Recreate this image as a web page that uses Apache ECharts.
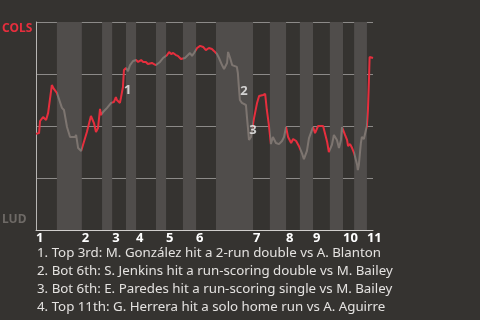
<!DOCTYPE html>
<html><head><meta charset="utf-8">
<script src="https://cdn.jsdelivr.net/npm/echarts@6/dist/echarts.min.js"></script>
<style>html,body{margin:0;padding:0;background:#353330;}#c{width:480px;height:320px;}</style>
</head><body><div id="c"></div>
<script>
// play progress (0-100) and COLS win probability (%)
const playX = [0,0.9,1.2,2.1,3.0,3.6,4.7,5.3,6.2,7.7,8.3,9.2,10.1,11.6,11.9,12.5,13.4,13.9,15.1,16.3,17.2,17.8,18.4,19.0,19.3,19.9,21.1,22.3,23.1,23.7,24.0,24.9,25.2,25.8,26.1,26.7,27.3,27.9,28.8,29.7,30.3,31.2,31.8,32.6,33.2,34.4,35.0,35.6,36.8,37.7,38.9,39.5,40.1,40.7,41.5,42.1,43.0,43.3,44.2,45.1,45.7,46.3,46.9,47.8,48.7,49.6,50.4,51.3,52.2,52.8,53.7,54.3,55.2,55.8,56.7,57.0,57.6,58.2,59.6,59.9,60.2,60.5,61.1,62.3,62.6,62.9,63.2,63.8,64.1,64.7,65.6,66.2,67.4,68.0,68.5,69.1,69.7,70.3,71.2,72.1,73.0,73.6,74.2,74.8,75.7,76.3,77.2,78.0,78.9,79.5,80.4,81.0,81.9,82.2,82.8,83.7,85.2,86.4,86.9,87.8,88.4,89.3,89.9,90.5,90.8,91.7,92.3,92.6,93.2,93.8,94.4,95.3,95.5,95.8,96.4,96.7,97.3,97.9,98.2,98.5,98.8,99.0,99.4,100];
const winProb = [46.2,46.6,52.4,54.3,52.9,56.3,69.7,67.8,65.9,58.7,57.7,49.5,44.7,44.7,45.7,39.4,38.0,38.9,47.1,54.8,51.4,47.1,49.0,58.2,55.3,56.7,58.7,61.1,61.5,63.9,62.5,61.1,63.5,68.75,76.9,77.9,76.4,79.3,81.25,81.7,80.8,81.7,80.8,80.8,79.8,80.3,79.8,79.3,80.8,82.7,84.1,85.6,84.6,85.1,84.1,83.7,82.2,81.25,82.7,84.1,85.1,83.7,85.1,87.5,88.5,88.0,86.5,87.5,87.0,86.1,84.6,82.7,79.3,77.4,80.3,85.6,82.7,79.3,78.4,75.5,68.75,62.5,61.1,60.1,54.3,49.0,43.3,44.7,48.1,53.8,61.1,64.4,64.9,65.4,57.7,50.5,41.3,44.7,41.8,41.3,42.8,44.7,49.5,44.7,41.8,43.75,42.8,40.4,37.0,34.1,38.0,44.2,48.1,49.5,46.6,50.0,50.0,42.3,37.5,40.9,45.7,43.3,39.4,43.3,49.5,45.7,43.3,40.4,41.3,39.4,37.0,31.25,28.8,31.25,41.8,44.7,43.75,48.1,50.0,57.7,72.1,83.2,84.1,82.7];
// half-inning boundaries (top, bottom, top, bottom, ...)
const halfEdges = [0,6.2,13.6,19.6,22.6,26.7,29.7,35.6,38.6,43.6,47.5,53.4,64.4,69.4,74.2,78.3,82.2,87.2,91.1,94.4,98.2,100];
const inningLabels = ['1','2','3','4','5','6','7','8','9','10','11'];
const annX = [27.2,61.7,64.4,100.1];
const annY = [67.3,66.8,48.1,63.0];
const annLabels = ['1','2','3','4'];
const notes = [
 '1. Top 3rd: M. González hit a 2-run double vs A. Blanton',
 '2. Bot 6th: S. Jenkins hit a run-scoring double vs M. Bailey',
 '3. Bot 6th: E. Paredes hit a run-scoring single vs M. Bailey',
 '4. Top 11th: G. Herrera hit a solo home run vs A. Aguirre'
];
const RED = '#e62e3d', GRAY = '#7d7570';
const FONT = 'Noto Sans';

const inningStarts = [];
for (let i = 0; i < halfEdges.length - 1; i += 2) inningStarts.push(halfEdges[i]);
const pieces = [], bands = [];
for (let i = 0; i < halfEdges.length - 1; i++) {
  pieces.push({gte: halfEdges[i], lt: halfEdges[i+1] + (i === halfEdges.length - 2 ? 1 : 0), color: i % 2 === 0 ? RED : GRAY});
  if (i % 2 === 1) bands.push([{xAxis: halfEdges[i]}, {xAxis: halfEdges[i+1]}]);
}
const lineData = playX.map((x, i) => [x, winProb[i]]);
const annData = annX.map((x, i) => ({value: [x, annY[i]], name: annLabels[i]}));

const chart = echarts.init(document.getElementById('c'), null, {renderer: 'canvas'});
const graphics = [
  {type: 'text', left: 2, top: 23, style: {text: 'COLS', fill: RED, font: 'bold 12px "' + FONT + '"'}},
  {type: 'text', left: 2, top: 214, style: {text: 'LUD', fill: '#6e6a66', font: 'bold 12px "' + FONT + '"'}}
];
notes.forEach((t, i) => graphics.push({type: 'text', left: 37, top: 247 + i * 18, style: {text: t, fill: '#e4e2e0', font: '13.3px "' + FONT + '"'}}));

chart.setOption({
  backgroundColor: '#353330',
  animation: false,
  grid: {left: 36, right: 107, top: 22, bottom: 90},
  xAxis: {
    type: 'value', min: 0, max: 100,
    axisLine: {show: true, lineStyle: {color: '#d0cecc', width: 1}},
    axisTick: {show: false},
    splitLine: {show: false},
    axisLabel: {
      customValues: inningStarts,
      formatter: v => { const k = inningStarts.indexOf(v); return k >= 0 ? inningLabels[k] : ''; },
      align: 'left', color: '#ffffff', fontWeight: 'bold', fontSize: 13, fontFamily: FONT, margin: 2
    }
  },
  yAxis: {
    type: 'value', min: 0, max: 100, interval: 25,
    axisLine: {show: true, lineStyle: {color: '#b8b6b4'}},
    axisTick: {show: false}, axisLabel: {show: false},
    splitLine: {show: true, lineStyle: {color: '#8c8a88', width: 1}}
  },
  visualMap: {type: 'piecewise', show: false, dimension: 0, seriesIndex: 0, pieces: pieces},
  series: [
    {type: 'line', data: lineData, symbol: 'none', lineStyle: {width: 2}, z: 3,
     markArea: {silent: true, itemStyle: {color: '#504d4b'}, data: bands}},
    {type: 'scatter', data: annData, symbolSize: 0, itemStyle: {color: 'rgba(0,0,0,0)'}, z: 5, silent: true,
     label: {show: true, position: 'inside', formatter: p => p.name, color: '#f2f2f2', fontWeight: 'bold', fontSize: 13, fontFamily: FONT}}
  ],
  graphic: graphics
});
</script></body></html>
